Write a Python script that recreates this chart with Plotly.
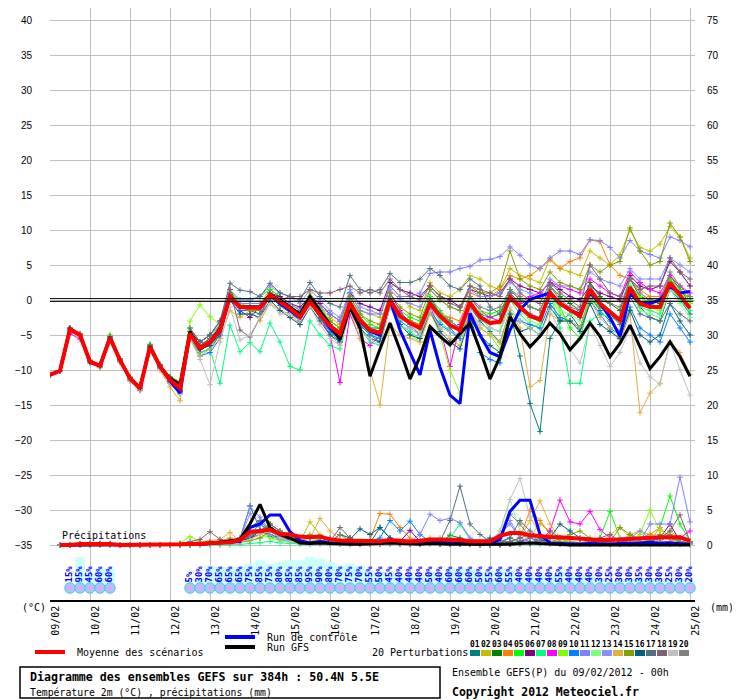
import plotly.graph_objects as go

# 6-hourly steps from 09/02/2012 00h to 25/02/2012 00h (384h)
hours = list(range(0, 385, 6))
day_labels = ["09/02", "10/02", "11/02", "12/02", "13/02", "14/02", "15/02", "16/02", "17/02",
              "18/02", "19/02", "20/02", "21/02", "22/02", "23/02", "24/02", "25/02"]

# ---------------- temperature 2m (°C) ----------------
temp_mean = [-10.7, -10.1, -4.2, -5.0, -8.8, -9.4, -5.4, -8.6, -11.2, -12.6, -6.7, -9.5, -11.4, -12.6,
             -4.8, -6.9, -6.0, -4.3, 0.5, -1.0, -1.1, -1.1, 0.7, -0.2, -1.2, -2.4, -0.2, -2.1,
             -3.7, -4.8, -0.4, -2.9, -4.3, -4.7, 0.0, -2.3, -3.3, -4.0, -0.5, -2.3,
             -3.6, -4.3, -0.4, -2.4, -3.3, -3.1, 0.4, -1.0, -2.3, -2.8, 1.0, -0.5,
             -1.4, -2.3, 1.5, -0.5, -1.7, -2.9, 1.8, -0.5, -1.0, -1.0, 2.5, 0.7, -1.2]
temp_ctrl = [-10.7, -10.1, -4.2, -5.0, -8.8, -9.4, -5.4, -8.6, -11.2, -12.6, -6.7, -9.5, -11.6, -13.3,
             -4.8, -7.0, -6.0, -4.5, 0.5, -1.0, -1.0, -1.0, 0.8, -0.5, -1.5, -2.5, 0.0, -2.0,
             -4.0, -5.5, -0.5, -3.0, -4.5, -5.0, 0.0, -4.3, -7.5, -10.7, -4.3, -9.6,
             -13.6, -14.8, -1.9, -5.0, -7.5, -8.1, -4.3, -1.4, 0.1, 0.5, 1.0, -0.5,
             -1.5, -2.0, 1.0, -0.5, -2.5, -5.2, 1.0, -0.5, -0.5, 0.0, 1.9, 1.0, 1.2]
temp_gfs = [-10.7, -10.1, -4.1, -5.0, -8.9, -9.4, -5.3, -8.6, -11.2, -12.5, -6.6, -9.5, -11.2, -12.0,
            -4.5, -7.0, -6.0, -4.0, 0.5, -1.0, -1.0, -1.0, 0.8, 0.0, -1.0, -2.0, 0.5, -1.5,
            -3.5, -5.7, -1.0, -4.0, -10.9, -7.0, -3.3, -7.1, -11.3, -8.1, -3.8, -5.2,
            -6.4, -4.8, -3.3, -7.1, -11.3, -8.1, -2.4, -4.8, -6.7, -5.2, -3.3, -4.8,
            -7.1, -5.5, -3.3, -5.2, -8.1, -6.2, -3.6, -6.7, -9.8, -8.1, -6.0, -8.1, -10.9]
temp_p01 = [-10.7, -10.1, -4.0, -4.9, -8.9, -9.6, -5.3, -8.7, -11.3, -12.8, -6.5, -9.6, -11.8, -13.0,
            -5.5, -7.5, -7.0, -5.0, 0.8, -1.5, -1.5, -2.0, 0.5, -0.8, -1.8, -3.0, 0.0, -2.5,
            -4.5, -5.5, -0.5, -3.5, -5.0, -6.0, 0.5, -2.0, -3.0, -4.5, 0.5, -2.0,
            -4.0, -5.5, -1.0, -3.0, -4.5, -6.0, -1.5, -8.0, -14.8, -18.8, -5.5, -3.0,
            -2.0, -4.0, 0.5, -1.5, -3.0, -4.5, 1.0, -1.0, -2.5, -3.0, 1.5, 0.0, -2.0]
temp_p02 = [-10.7, -10.1, -4.3, -5.1, -8.7, -9.3, -5.5, -8.5, -11.1, -12.5, -6.8, -9.4, -11.2, -12.2,
            -4.5, -6.5, -5.5, -4.0, 1.0, -0.5, -0.5, -0.5, 1.5, 0.5, -0.5, -1.5, 1.0, -1.0,
            -2.5, -3.5, 1.0, -1.5, -2.0, -2.5, 2.0, 0.5, -1.0, -1.5, 2.5, 1.0,
            0.5, 1.5, 3.5, 3.0, 2.0, 1.5, 4.5, 3.5, 3.0, 2.5, 6.0, 4.5,
            4.0, 3.5, 7.0, 6.0, 5.0, 6.5, 10.0, 7.5, 7.0, 8.0, 10.5, 9.0, 6.0]
temp_p03 = [-10.7, -10.1, -4.1, -5.0, -8.8, -9.5, -5.2, -8.6, -11.2, -12.7, -6.6, -9.7, -11.6, -12.9,
            -5.0, -7.0, -6.5, -4.5, 0.5, -1.0, -1.0, -1.0, 1.0, 0.0, -1.0, -2.0, 0.0, -2.0,
            -3.5, -4.5, -0.5, -2.5, -4.0, -4.0, 0.5, -2.0, -3.0, -3.5, 0.0, -2.0,
            -3.0, -4.0, 0.0, -2.0, -2.5, -2.0, 1.5, 0.0, -1.0, -1.5, 2.0, 0.5,
            -0.5, -1.5, 2.5, 0.5, -0.5, -1.5, 3.0, 0.5, 0.0, -0.5, 3.5, 1.5, -0.5]
temp_p04 = [-10.7, -10.1, -4.2, -4.8, -8.6, -9.3, -5.4, -8.4, -11.0, -12.4, -6.9, -9.3, -11.0, -12.0,
            -4.5, -6.5, -5.5, -4.0, 1.0, -0.5, -1.0, -1.0, 1.0, 0.0, -1.0, -2.0, 0.5, -1.5,
            -3.0, -4.0, 0.0, -2.5, -4.0, -4.5, 0.5, -2.0, -3.0, -3.5, 0.0, -2.0,
            -2.5, -3.0, 1.0, 0.5, 0.5, 1.5, 3.5, 3.0, 3.5, 4.5, 5.7, 4.5,
            5.5, 6.0, 8.6, 8.3, 5.0, 3.5, 3.0, 1.5, 0.5, 0.5, 3.0, 1.0, 0.5]
temp_p05 = [-10.7, -10.1, -4.1, -5.1, -8.9, -9.5, -5.0, -8.8, -11.4, -12.7, -6.3, -9.5, -11.5, -12.8,
            -4.0, -6.0, -5.0, -3.5, 1.0, 0.0, 0.0, 0.5, 1.5, 0.5, -0.5, -1.5, 0.5, -1.0,
            -3.0, -4.0, 0.5, -2.0, -3.5, -4.0, 1.0, -1.5, -2.5, -3.0, 0.5, -1.5,
            -3.0, -4.0, 0.5, -1.5, -2.0, -1.5, 1.0, -0.5, -2.5, -3.0, 0.5, -1.0,
            -4.0, -5.5, 0.0, -1.0, -2.0, -3.0, 2.0, 0.5, -0.5, -1.0, 3.0, 1.5, 0.0]
temp_p06 = [-10.7, -10.1, -4.3, -5.2, -8.8, -9.4, -5.5, -8.6, -11.2, -12.6, -6.8, -9.6, -11.7, -13.1,
            -4.5, -6.0, -5.0, -3.0, 1.5, -1.5, -2.5, -1.0, 1.0, 0.5, -0.5, -1.0, 0.5, -0.5,
            -2.0, -3.0, 1.0, -0.5, -1.0, -1.5, 2.5, 1.5, 1.0, 0.5, 2.0, 0.5,
            0.0, -1.0, 1.5, 1.0, 0.5, 1.0, 3.0, 2.0, 1.5, 1.0, 2.5, 1.5,
            0.5, 0.0, 2.0, 1.0, 0.5, 0.0, 3.5, 2.0, 1.5, 2.0, 5.5, 4.0, 2.0]
temp_p07 = [-10.7, -10.1, -4.2, -5.0, -8.9, -9.5, -5.4, -8.7, -11.3, -12.7, -6.6, -9.4, -11.3, -12.5,
            -5.0, -7.5, -7.0, -11.9, -3.6, -7.4, -6.1, -7.4, -3.3, -6.0, -9.5, -10.0, -3.0, -5.0,
            -6.5, -7.0, -1.5, -4.0, -6.0, -6.5, -1.0, -3.5, -4.5, -5.5, -1.0, -3.0,
            -4.5, -5.0, -0.5, -2.5, -4.0, -4.5, 0.0, -2.0, -3.5, -4.0, 1.0, -4.0,
            -11.9, -11.9, -3.0, -2.0, -2.5, -3.0, 1.0, -1.0, -1.5, -2.0, 2.0, 0.0, -1.5]
temp_p08 = [-10.7, -10.1, -4.8, -5.6, -9.0, -9.6, -5.7, -8.9, -11.5, -12.9, -7.0, -9.8, -11.8, -13.2,
            -5.0, -7.0, -6.5, -4.5, 0.0, -1.5, -1.5, -1.5, 0.5, -0.5, -1.5, -3.0, -0.5, -2.5,
            -5.0, -11.8, -2.0, -5.5, -6.5, -5.0, 1.0, -1.5, -3.5, -5.0, -1.0, -4.0,
            -9.5, -3.5, 0.5, -1.5, -2.5, -3.0, 1.0, -0.5, 0.5, 1.0, 2.5, 2.0,
            1.5, 1.0, 3.0, 2.0, 1.0, 0.5, 4.0, 2.5, 1.5, 1.0, 3.5, 2.0, 1.0]
temp_p09 = [-10.7, -10.1, -4.0, -4.9, -8.7, -9.2, -5.1, -8.5, -11.1, -12.4, -6.4, -9.2, -10.9, -11.6,
            -3.0, -0.7, -2.4, -3.5, 1.5, -0.5, -1.0, -1.0, 1.0, -0.5, -1.5, -2.5, 0.0, -2.0,
            -4.0, -5.0, 0.0, -3.0, -5.0, -5.5, 0.5, -3.5, -5.0, -6.0, -1.5, -5.0,
            -10.0, -13.3, -3.0, -4.0, -5.0, -7.0, -1.5, -3.0, -4.0, -3.5, 0.5, -2.0,
            -3.0, -4.0, 0.5, -1.0, -2.0, -3.0, 1.5, 0.5, -1.0, -1.5, 2.0, 1.0, -0.5]
temp_p10 = [-10.7, -10.1, -4.2, -5.0, -8.8, -9.4, -5.4, -8.6, -11.2, -12.6, -6.7, -9.6, -11.9, -13.4,
            -5.5, -8.0, -7.5, -5.5, 0.5, -1.5, -1.5, -1.5, 0.5, -0.5, -1.5, -3.0, -0.5, -2.5,
            -4.5, -6.0, -1.0, -3.5, -5.0, -5.5, -0.5, -3.0, -4.0, -5.0, -1.5, -3.5,
            -4.5, -5.5, -2.0, -7.5, -8.5, -9.0, -3.0, -3.0, -3.5, -4.0, -0.5, -2.5,
            -3.0, -4.0, 0.0, -2.0, -4.0, -5.0, -1.0, -4.0, -5.0, -6.0, -2.0, -4.0, -6.0]
temp_p11 = [-10.7, -10.1, -4.1, -5.0, -8.7, -9.4, -5.3, -8.5, -11.1, -12.5, -6.6, -9.4, -11.3, -12.4,
            -4.5, -6.5, -5.5, -4.0, 1.0, -0.5, -0.5, -0.5, 1.0, 0.0, -0.5, -1.5, 0.5, -1.0,
            -2.0, -3.0, 1.0, -1.5, -2.0, -2.0, 2.0, 0.5, 0.5, 1.0, 3.8, 4.0,
            4.0, 4.5, 4.8, 5.7, 5.8, 6.2, 7.6, 6.4, 5.0, 4.5, 6.0, 7.0,
            7.0, 6.5, 8.6, 8.5, 7.5, 6.0, 8.5, 7.0, 6.5, 6.0, 9.0, 8.5, 7.6]
temp_p12 = [-10.7, -10.1, -4.2, -5.1, -8.8, -9.4, -5.4, -8.7, -11.3, -12.6, -6.7, -9.5, -11.4, -12.6,
            -4.5, -6.5, -6.0, -4.0, 0.5, -1.0, -1.0, -1.0, 1.0, -0.5, -1.0, -2.0, 0.5, -1.5,
            -3.5, -4.5, 0.0, -2.5, -4.0, -4.5, 0.0, -2.5, -3.5, -4.5, -1.0, -2.5,
            -3.5, -4.0, 0.0, -1.5, -3.0, -3.5, 0.5, -1.5, -3.0, -3.5, 0.5, -1.5,
            -2.0, -3.0, 1.0, -1.0, -2.0, -3.5, 1.0, -1.5, -2.0, -2.5, 1.5, -0.5, -2.5]
temp_p13 = [-10.7, -10.1, -4.0, -4.9, -8.7, -9.3, -5.3, -8.5, -11.2, -12.5, -6.6, -9.4, -11.2, -12.3,
            -4.5, -6.5, -5.5, -3.5, 1.5, 0.0, 0.0, 0.5, 2.0, 1.0, 0.5, -0.5, 1.5, 0.0,
            -1.5, -2.5, 1.5, -1.0, -1.5, -2.0, 1.5, 0.0, -0.5, -1.0, 1.5, 0.0,
            -1.0, -1.5, 1.5, 0.5, 0.5, 1.0, 2.5, 1.5, 1.0, 0.5, 3.0, 2.0,
            2.0, 1.5, 4.0, 3.0, 2.5, 2.0, 4.5, 3.0, 3.0, 3.0, 6.0, 5.0, 4.0]
temp_p14 = [-10.7, -10.1, -4.4, -5.3, -9.0, -9.7, -5.6, -8.9, -11.6, -13.0, -7.1, -10.0, -12.4, -14.4,
            -5.5, -8.0, -7.0, -5.5, -1.5, -2.5, -1.5, -3.0, -0.5, -1.5, -2.0, -3.5, -1.0, -3.0,
            -5.0, -6.5, -1.5, -5.5, -10.0, -15.0, -3.5, -5.0, -5.5, -6.0, -2.0, -4.0,
            -5.5, -6.5, -1.5, -4.0, -5.0, -6.0, -1.5, -4.0, -12.4, -11.5, -2.0, -3.0,
            -3.0, -4.0, 0.0, -2.5, -4.0, -6.0, -2.0, -16.1, -13.3, -11.9, -5.9, -7.5, -10.6]
temp_p15 = [-10.7, -10.1, -4.2, -5.0, -8.8, -9.4, -5.4, -8.6, -11.2, -12.6, -6.7, -9.5, -11.5, -12.7,
            -4.5, -6.5, -5.5, -4.0, 1.0, -1.0, -1.5, -1.5, 1.0, 0.0, -1.0, -2.0, 0.5, -1.5,
            -3.0, -4.0, 0.5, -2.0, -3.0, -3.5, 1.0, -1.0, -2.0, -2.5, 1.5, 0.0,
            -1.0, -1.5, 2.0, 1.0, 1.0, 2.0, 7.0, 3.0, 2.0, 1.5, 4.0, 2.5,
            2.0, 1.5, 5.0, 4.0, 5.0, 5.5, 10.3, 7.0, 5.0, 5.5, 11.0, 9.0, 5.5]
temp_p16 = [-10.7, -10.1, -4.3, -5.1, -8.9, -9.5, -5.5, -8.7, -11.3, -12.7, -6.8, -9.6, -11.6, -12.9,
            -5.0, -7.0, -6.5, -5.0, 0.0, -2.0, -2.0, -2.5, 0.0, -1.5, -2.5, -3.5, -1.0, -3.0,
            -5.0, -6.0, -1.5, -4.0, -5.5, -6.0, -1.0, -3.5, -5.0, -5.5, -1.5, -4.5,
            -6.0, -7.0, -2.5, -5.0, -6.5, -7.5, -2.0, -4.5, -4.0, -5.0, -1.0, -3.0,
            -3.0, -4.5, -0.5, -3.5, -4.5, -5.5, -1.5, -5.0, -6.0, -5.0, -0.5, -3.0, -5.0]
temp_p17 = [-10.7, -10.1, -4.0, -4.9, -8.6, -9.2, -5.2, -8.4, -11.0, -12.3, -6.4, -9.2, -11.0, -12.0,
            -4.0, -6.0, -5.0, -3.0, 2.4, 1.4, 1.2, 0.5, 2.4, 1.0, 0.5, 0.0, 2.5, 0.5,
            -0.5, -1.0, 3.5, 1.5, 1.0, 1.5, 3.8, 2.5, 2.5, 3.0, 4.5, 3.5,
            2.0, 1.5, 3.0, 2.0, -1.0, -2.0, 1.0, -1.5, -2.0, -2.5, 1.5, -0.5,
            -1.5, -2.5, 1.0, -1.0, -2.0, -3.5, 0.5, -2.0, -2.5, -3.0, -0.5, -2.0, -3.0]
temp_p18 = [-10.7, -10.1, -4.1, -4.9, -8.7, -9.3, -5.3, -8.5, -11.1, -12.4, -6.6, -9.3, -11.1, -12.2,
            -4.5, -6.5, -5.5, -5.0, 1.5, -4.3, -5.3, -2.5, 1.0, 0.0, 0.5, 0.5, 1.5, 1.0,
            1.0, 1.5, 2.0, 1.0, 1.5, 1.0, 3.0, 1.5, 0.5, 0.0, 2.0, 0.5,
            -0.5, -1.0, 2.0, 1.5, 1.0, 0.5, 3.0, 1.0, 0.0, -0.5, 2.5, 1.0,
            0.0, -1.0, 5.0, 3.0, 1.0, 0.5, 3.0, 1.5, 2.0, 2.0, 6.0, 4.0, 3.0]
temp_p19 = [-10.7, -10.1, -4.3, -5.2, -8.9, -9.6, -5.5, -8.8, -11.4, -12.8, -6.9, -9.7, -11.9, -13.5,
            -5.5, -8.5, -12.1, -6.0, -1.0, -5.7, -5.0, -2.5, -0.5, -2.0, -2.0, -3.0, -1.0, -3.5,
            -5.5, -6.5, -1.5, -4.5, -5.5, -6.5, -1.0, -4.0, -4.0, -5.0, -1.5, -4.0,
            -4.5, -5.0, -1.5, -3.5, -4.0, -4.5, -1.0, -3.0, -4.0, -5.0, -1.5, -4.5,
            -7.0, -9.0, -3.5, -6.5, -9.5, -7.5, -4.0, -9.0, -11.0, -12.0, -6.0, -10.0, -13.6]
temp_p20 = [-10.7, -10.1, -4.2, -5.0, -8.8, -9.4, -5.4, -8.6, -11.2, -12.6, -6.7, -9.5, -11.4, -12.6,
            -4.5, -6.5, -6.0, -4.5, 0.5, -1.0, -1.0, -1.5, 0.5, -0.5, -1.0, -2.5, 0.0, -2.0,
            -3.5, -5.0, 0.0, -2.5, -4.0, -4.5, 0.5, -2.0, -3.5, -4.0, 0.0, -2.0,
            -3.0, -4.0, 0.5, -1.0, -1.5, -1.0, 1.5, 0.5, -1.0, -1.5, 2.0, 0.0,
            -1.0, -1.5, 2.0, 0.0, -0.5, -1.0, 3.0, 1.0, 0.0, 0.0, 4.0, 2.0, 0.5]

# ---------------- precipitation per 6h (mm) ----------------
prec_mean = [None, 0, 0, 0.15, 0.15, 0.15, 0.15, 0, 0, 0, 0, 0, 0, 0.1, 0.15, 0.15,
             0.3, 0.4, 0.4, 0.7, 1.9, 2.0, 2.2, 1.6, 1.5, 1.2, 1.1, 1.2, 0.8, 0.65, 0.6, 0.6,
             0.5, 0.55, 0.7, 0.6, 0.5, 0.6, 0.8, 0.8, 0.8, 0.7, 0.55, 0.5, 0.55, 1.3, 1.7, 1.7,
             1.4, 1.3, 1.1, 1.1, 1.0, 0.8, 0.7, 0.7, 0.7, 0.8, 0.9, 0.9, 1.0, 1.1, 1.1, 1.1, 0.6]
prec_ctrl = [None, 0, 0, 0, 0, 0, 0, 0, 0, 0, 0, 0, 0, 0.1, 0.1, 0.1,
             0.2, 0.3, 0.3, 0.5, 2.5, 3.0, 4.3, 4.3, 1.9, 0.6, 0.3, 0.5, 0.3, 0.2, 0.3, 0.2,
             0.2, 0.3, 0.5, 0.3, 0.2, 0.3, 0.5, 0.4, 0.3, 0.2, 0.2, 0.1, 0.2, 0.8, 4.8, 6.4,
             6.4, 1.5, 0.3, 0.2, 0.1, 0.1, 0.2, 0.1, 0.1, 0.2, 0.2, 0.3, 0.4, 0.2, 0.3, 0.2, 0.1]
prec_gfs = [None, 0, 0, 0, 0, 0, 0, 0, 0, 0, 0, 0, 0, 0, 0.1, 0.1,
            0.2, 0.4, 0.5, 0.8, 3.0, 5.8, 2.5, 1.5, 1.0, 0.3, 0.2, 0.3, 0.2, 0.1, 0.1, 0.1,
            0.1, 0.2, 0.3, 0.2, 0.1, 0.1, 0.2, 0.1, 0.1, 0.1, 0.1, 0, 0, 0, 0.1, 0.2,
            0.3, 0.2, 0.1, 0, 0, 0, 0, 0, 0, 0, 0.1, 0, 0, 0, 0, 0, 0]
prec_p01 = [None, 0, 0, 0.1, 0.2, 0.1, 0.1, 0, 0, 0, 0, 0, 0, 0, 0.1, 0.2,
            0.2, 0.3, 0.4, 0.8, 5.6, 2.2, 1.2, 0.8, 0.5, 0.3, 0.2, 0.2, 0.4, 0.2, 0.1, 0.1,
            0.3, 2.5, 1.0, 0.3, 0.1, 0.1, 0.2, 0.1, 0.1, 0.5, 0.2, 0, 0, 0, 0.1, 0.2,
            0.3, 0.6, 2.0, 1.0, 0.3, 0.2, 0.3, 0.5, 0.2, 0.3, 1.5, 0.5, 0.3, 0.2, 0.2, 0.1, 0.1]
prec_p02 = [None, 0, 0, 0.2, 0.2, 0.1, 0.1, 0, 0, 0, 0, 0, 0, 0, 0.1, 0.1,
            0.2, 0.3, 0.4, 0.6, 2.0, 1.5, 3.0, 2.0, 1.0, 0.5, 3.3, 1.5, 0.5, 0.3, 0.5, 0.2,
            0.1, 0.2, 0.3, 0.2, 0.3, 0.5, 1.0, 0.4, 0.2, 0.1, 0.1, 0.1, 0.1, 0.2, 0.3, 0.5,
            1.2, 3.0, 2.0, 0.8, 0.5, 0.3, 0.2, 0.3, 0.2, 0.5, 1.5, 2.0, 1.5, 0.8, 2.0, 1.0, 0.5]
prec_p03 = [None, 0, 0, 0.1, 0.1, 0.2, 0.1, 0, 0, 0, 0, 0, 0, 0.1, 0.1, 0.1,
            0.2, 0.2, 0.3, 0.5, 1.0, 2.0, 1.5, 1.0, 0.8, 0.5, 0.4, 0.6, 0.5, 1.5, 1.0, 0.4,
            0.2, 0.3, 0.3, 0.2, 0.2, 0.2, 0.3, 0.3, 1.4, 1.0, 0.5, 0.2, 0.1, 0.2, 0.2, 0.3,
            0.2, 0.3, 0.2, 0.2, 0.1, 0.2, 0.3, 0.8, 0.5, 0.2, 0.2, 0.3, 0.5, 0.3, 0.2, 0.2, 0.1]
prec_p04 = [None, 0, 0, 0.2, 0.2, 0.2, 0.1, 0, 0, 0, 0, 0, 0, 0.1, 0.1, 0.2,
            0.3, 0.5, 1.0, 0.6, 1.0, 1.5, 2.0, 1.5, 1.2, 0.6, 0.4, 0.5, 0.3, 0.2, 0.3, 0.5,
            0.8, 4.5, 4.4, 2.5, 1.0, 0.4, 0.2, 0.2, 0.1, 0.2, 0.1, 0.1, 0.1, 0.2, 0.4, 1.0,
            5.0, 3.5, 1.5, 0.5, 0.3, 0.2, 0.2, 0.3, 0.2, 0.3, 0.5, 1.0, 1.5, 2.5, 1.0, 0.5, 0.3]
prec_p05 = [None, 0, 0, 0.1, 0.1, 0.1, 0.1, 0, 0, 0, 0, 0, 0, 0, 0.1, 0.2,
            0.5, 0.4, 0.3, 0.6, 2.5, 3.0, 2.0, 1.0, 0.6, 0.4, 0.3, 0.3, 0.2, 0.2, 0.1, 0.2,
            0.2, 0.1, 0.2, 0.3, 0.2, 0.3, 0.4, 1.0, 0.5, 0.3, 0.1, 0.1, 0.1, 0.1, 0.2, 0.2,
            0.3, 0.2, 0.3, 0.4, 0.5, 0.3, 0.5, 1.0, 4.8, 1.0, 0.5, 0.3, 0.5, 2.5, 7.0, 3.0, 0.5]
prec_p06 = [None, 0, 0, 0.1, 0.1, 0.1, 0.2, 0, 0, 0, 0, 0, 0, 0, 0, 0.1,
            0.2, 0.2, 0.3, 0.5, 1.0, 1.5, 2.5, 1.5, 1.0, 0.6, 0.4, 0.4, 0.3, 0.5, 1.0, 0.4,
            0.3, 0.2, 0.3, 0.5, 2.1, 0.5, 0.3, 0.2, 0.2, 0.1, 0.2, 0.1, 0.1, 0.1, 0.2, 0.5,
            1.0, 0.5, 0.3, 0.2, 0.2, 0.3, 0.2, 0.2, 0.2, 0.3, 0.3, 0.4, 0.5, 1.0, 3.0, 0.5, 0.2]
prec_p07 = [None, 0, 0, 0, 0, 0, 0, 0, 0, 0, 0, 0, 0, 0, 0, 0,
            0, 0, 0, 0.1, 0.2, 0.3, 0.5, 0.3, 0.2, 0.1, 0.1, 0.2, 0.1, 0.1, 0.2, 0.1,
            0.1, 0.1, 0.2, 0.2, 0.2, 0.3, 0.3, 0.5, 1.0, 3.0, 0.8, 0.3, 0.2, 0.3, 0.5, 0.3,
            0.2, 0.1, 0.2, 0.2, 0.1, 0.1, 0.2, 0.1, 0.1, 0.1, 0.2, 0.2, 0.3, 0.2, 0.2, 0.1, 0.1]
prec_p08 = [None, 0, 0, 0.1, 0.1, 0.2, 0.1, 0, 0, 0, 0, 0, 0, 0, 0.1, 0.1,
            0.2, 0.3, 0.3, 0.6, 1.5, 2.0, 2.5, 1.5, 1.0, 0.5, 0.4, 0.3, 0.4, 0.3, 0.2, 0.3,
            0.2, 0.3, 0.4, 0.3, 0.2, 0.3, 0.5, 0.3, 0.2, 0.2, 0.1, 0.1, 0.1, 0.2, 0.2, 0.3,
            0.3, 0.5, 2.0, 6.4, 3.3, 3.0, 4.8, 2.2, 1.0, 0.5, 0.4, 0.3, 0.3, 0.5, 0.5, 1.0, 2.0]
prec_p09 = [None, 0, 0, 0.1, 0.1, 0.1, 0.1, 0, 0, 0, 0, 0, 0, 0.3, 1.2, 0.5,
            0.3, 0.3, 0.4, 0.5, 2.0, 1.5, 1.0, 0.6, 0.5, 0.4, 0.5, 1.0, 0.8, 0.3, 0.2, 0.2,
            0.2, 0.1, 0.2, 0.3, 0.2, 0.3, 0.3, 0.2, 0.3, 0.5, 0.2, 0.1, 0.1, 0.2, 0.3, 0.2,
            0.2, 0.3, 0.2, 0.2, 0.2, 0.3, 0.2, 0.3, 0.3, 0.2, 0.5, 1.5, 5.0, 2.0, 1.5, 0.5, 0.2]
prec_p10 = [None, 0, 0, 0.1, 0.2, 0.1, 0.1, 0, 0, 0, 0, 0, 0, 0, 0.1, 0.1,
            0.2, 0.3, 0.4, 0.5, 1.5, 3.0, 2.0, 1.0, 0.8, 0.4, 0.3, 0.3, 0.2, 0.2, 0.3, 0.4,
            0.5, 1.0, 3.5, 2.0, 3.4, 1.5, 0.5, 0.3, 0.2, 0.2, 0.1, 0.1, 0.2, 0.5, 1.0, 0.5,
            0.3, 1.0, 0.3, 0.2, 0.1, 0.2, 0.1, 0.2, 0.2, 0.1, 0.2, 0.2, 0.3, 0.2, 0.2, 0.2, 0.1]
prec_p11 = [None, 0, 0, 0.1, 0.1, 0.1, 0.1, 0, 0, 0, 0, 0, 0, 0.1, 0.1, 0.2,
            0.2, 0.3, 0.5, 1.0, 5.5, 4.0, 2.0, 1.0, 0.6, 0.4, 0.3, 0.3, 0.2, 0.3, 0.2, 0.2,
            0.2, 0.2, 0.3, 0.3, 0.5, 1.5, 4.4, 3.5, 3.8, 3.2, 1.0, 0.5, 0.3, 1.5, 3.0, 1.0,
            0.5, 0.3, 0.3, 0.2, 0.2, 0.3, 0.2, 0.3, 0.3, 0.2, 0.4, 0.5, 3.0, 3.0, 3.0, 9.7, 3.3]
prec_p12 = [None, 0, 0, 0.1, 0.1, 0.1, 0.1, 0, 0, 0, 0, 0, 0, 0, 0.1, 0.1,
            0.2, 0.2, 0.3, 0.4, 0.6, 1.0, 1.5, 0.5, 0.4, 0.3, 0.2, 0.2, 0.2, 0.2, 0.2, 0.3,
            0.2, 0.2, 0.3, 0.3, 0.3, 0.3, 0.5, 1.0, 0.5, 0.3, 0.2, 0.2, 0.2, 2.0, 6.5, 2.0,
            0.5, 0.3, 0.2, 0.2, 0.2, 0.1, 0.2, 0.2, 0.2, 0.3, 0.3, 0.2, 0.3, 0.2, 0.3, 0.2, 0.2]
prec_p13 = [None, 0, 0, 0.1, 0.1, 0.1, 0.1, 0, 0, 0, 0, 0, 0, 0.1, 0.1, 0.1,
            0.2, 0.3, 0.4, 0.8, 4.5, 3.0, 1.5, 0.8, 0.5, 0.4, 0.3, 0.3, 0.2, 0.3, 0.2, 0.2,
            0.3, 0.2, 0.2, 0.3, 0.2, 0.3, 0.4, 0.3, 0.2, 0.3, 0.2, 0.2, 0.2, 1.0, 3.5, 1.0,
            0.4, 0.3, 0.2, 0.2, 0.2, 0.3, 0.2, 0.3, 0.3, 0.4, 1.0, 2.0, 1.0, 0.5, 0.4, 0.3, 0.2]
prec_p14 = [None, 0, 0, 0.2, 0.2, 0.2, 0.2, 0, 0, 0, 0, 0, 0, 0.1, 0.3, 0.5,
            0.6, 0.8, 1.8, 0.5, 0.8, 1.5, 2.0, 1.0, 0.8, 0.6, 1.0, 3.8, 2.0, 0.8, 0.4, 0.3,
            0.2, 0.3, 0.3, 0.2, 0.2, 0.3, 0.3, 0.2, 0.2, 0.2, 0.1, 0.1, 0.2, 0.3, 0.5, 1.0,
            3.5, 6.3, 3.0, 1.0, 0.5, 0.3, 0.2, 0.3, 1.5, 2.5, 1.0, 0.5, 0.5, 2.5, 0.8, 0.3, 0.2]
prec_p15 = [None, 0, 0, 0.1, 0.1, 0.1, 0.1, 0, 0, 0, 0, 0, 0, 0, 0.1, 0.1,
            0.2, 0.2, 0.3, 0.4, 0.6, 1.0, 2.0, 1.5, 0.6, 0.4, 1.5, 0.6, 0.3, 0.3, 1.0, 0.3,
            0.2, 0.2, 0.3, 0.2, 0.2, 0.2, 0.3, 0.3, 0.2, 0.2, 0.2, 0.1, 0.1, 0.2, 0.3, 0.3,
            0.3, 0.5, 0.5, 0.8, 1.5, 2.0, 1.0, 0.5, 0.5, 2.5, 1.5, 0.8, 0.6, 1.5, 1.0, 0.5, 0.3]
prec_p16 = [None, 0, 0, 0.1, 0.1, 0.1, 0.1, 0, 0, 0, 0, 0, 0, 0, 0.1, 0.2,
            0.3, 0.3, 0.4, 0.6, 1.0, 2.0, 3.0, 2.0, 0.8, 0.5, 0.4, 0.4, 0.3, 0.5, 0.8, 2.3,
            1.5, 2.5, 1.0, 0.4, 0.3, 0.2, 0.3, 0.2, 0.2, 0.3, 0.2, 0.3, 1.0, 0.5, 0.3, 0.2,
            0.3, 0.5, 1.0, 3.0, 2.0, 1.0, 0.5, 0.3, 0.2, 0.2, 0.3, 0.2, 0.2, 0.3, 0.2, 0.2, 0.1]
prec_p17 = [None, 0, 0, 0.1, 0.1, 0.1, 0.1, 0, 0, 0, 0, 0, 0, 0.1, 0.2, 0.3,
            0.3, 0.4, 0.6, 1.0, 2.5, 3.5, 2.0, 1.2, 0.8, 0.5, 0.4, 0.5, 1.0, 0.5, 0.3, 0.3,
            0.3, 0.3, 0.3, 0.2, 0.2, 0.3, 0.4, 0.5, 3.5, 8.4, 3.0, 1.5, 0.5, 0.3, 1.0, 3.5,
            2.0, 1.0, 0.5, 0.3, 0.2, 0.2, 0.3, 0.2, 0.2, 0.3, 0.2, 0.2, 0.2, 0.3, 0.3, 0.2, 0.1]
prec_p18 = [None, 0, 0, 0.1, 0.1, 0.1, 0.1, 0, 0, 0, 0, 0, 0, 0.2, 0.5, 0.8,
            1.9, 0.8, 0.5, 0.6, 1.2, 2.0, 2.5, 1.5, 0.8, 0.5, 0.4, 0.5, 0.5, 2.5, 1.0, 0.4,
            0.3, 0.2, 0.3, 0.2, 0.2, 0.3, 0.3, 0.2, 0.2, 0.2, 0.2, 0.2, 0.2, 0.3, 0.5, 1.0,
            1.5, 0.5, 0.3, 0.2, 0.2, 0.3, 0.5, 1.0, 1.5, 0.5, 0.3, 0.4, 0.5, 1.0, 2.0, 4.3, 0.5]
prec_p19 = [None, 0, 0, 0.1, 0.1, 0.1, 0.1, 0, 0, 0, 0, 0, 0, 0, 0.1, 0.1,
            0.2, 0.2, 0.3, 0.4, 0.8, 1.5, 2.0, 1.0, 0.5, 0.4, 0.3, 0.2, 0.2, 0.2, 0.2, 0.2,
            0.2, 0.2, 0.3, 0.3, 0.2, 0.2, 0.3, 0.3, 0.2, 0.2, 0.2, 0.2, 0.3, 2.0, 6.5, 9.5,
            4.0, 1.5, 0.5, 0.3, 0.2, 0.2, 0.2, 0.3, 0.3, 1.0, 0.5, 0.3, 0.2, 0.2, 0.3, 0.2, 0.1]
prec_p20 = [None, 0, 0, 0.1, 0.1, 0.1, 0.1, 0, 0, 0, 0, 0, 0, 0.1, 0.2, 0.3,
            0.5, 0.5, 0.6, 0.8, 1.5, 2.0, 3.0, 2.0, 1.0, 0.6, 0.5, 0.6, 0.5, 1.5, 0.5, 0.3,
            0.2, 0.2, 0.3, 0.3, 0.2, 0.3, 0.3, 0.2, 0.2, 0.2, 0.2, 0.2, 0.3, 0.5, 4.4, 3.0,
            1.0, 0.5, 0.3, 0.2, 0.2, 0.3, 0.2, 0.5, 0.3, 0.3, 0.3, 0.2, 0.3, 0.4, 1.5, 0.5, 0.3]

# snow probability (%) per 6h step, None where nothing is shown
snow_prob = [None, None, 15, 95, 45, 60, 60, None, None, None, None, None, None, None,
             5, 30, 70, 65, 65, 65, 75, 85, 75, 80, 85, 85, 95, 90, 80, 70, 75, 70,
             55, 50, 45, 40, 40, 40, 50, 40, 60, 60, 60, 50, 55, 60, 55, 40, 40, 40,
             40, 55, 40, 40, 40, 30, 25, 30, 30, 35, 30, 30, 25, 30, 20]

member_colors = ["#008080", "#c0c000", "#008000", "#ff8000", "#00ff00", "#800080", "#00ff80",
                 "#ff00ff", "#80ff00", "#0080ff", "#8080ff", "#80ff80", "#8c8cff", "#e0b040",
                 "#80a000", "#006080", "#507080", "#806070", "#c0c0c0", "#808080"]

temp_members = [temp_p01, temp_p02, temp_p03, temp_p04, temp_p05, temp_p06, temp_p07, temp_p08,
                temp_p09, temp_p10, temp_p11, temp_p12, temp_p13, temp_p14, temp_p15, temp_p16,
                temp_p17, temp_p18, temp_p19, temp_p20]
prec_members = [prec_p01, prec_p02, prec_p03, prec_p04, prec_p05, prec_p06, prec_p07, prec_p08,
                prec_p09, prec_p10, prec_p11, prec_p12, prec_p13, prec_p14, prec_p15, prec_p16,
                prec_p17, prec_p18, prec_p19, prec_p20]

MONO = "DejaVu Sans Mono"
SANS = "Liberation Sans"

# the page body adds an 8px margin, so the figure is 8px smaller and the
# page-pixel positions below are shifted back by OFF
OFF = 8
W, H = 740 - OFF, 700 - OFF
L, R, T, B = 50 - OFF, W - (695 - OFF), 0, 100
PW, PH = W - L - R, H - T - B        # 645 x 592


def px(x):
    return (x - OFF - L) / PW


def py(y):
    return (PH - (y - OFF - T)) / PH


fig = go.Figure()

# temperature curves
for vals, col in zip(temp_members, member_colors):
    fig.add_trace(go.Scatter(x=hours, y=vals, mode="lines+markers", line=dict(color=col, width=1),
                             marker=dict(symbol="cross-thin", size=4, line=dict(color=col, width=1))))
fig.add_trace(go.Scatter(x=hours, y=temp_ctrl, mode="lines", line=dict(color="#0000ff", width=3)))
fig.add_trace(go.Scatter(x=hours, y=temp_gfs, mode="lines", line=dict(color="#000000", width=3)))
fig.add_trace(go.Scatter(x=hours, y=temp_mean, mode="lines", line=dict(color="#ff0000", width=4)))

# precipitation curves (right axis)
for vals, col in zip(prec_members, member_colors):
    fig.add_trace(go.Scatter(x=hours, y=vals, yaxis="y2", mode="lines+markers",
                             line=dict(color=col, width=1),
                             marker=dict(symbol="cross-thin", size=4, line=dict(color=col, width=1))))
fig.add_trace(go.Scatter(x=hours, y=prec_ctrl, yaxis="y2", mode="lines", line=dict(color="#0000ff", width=3)))
fig.add_trace(go.Scatter(x=hours, y=prec_gfs, yaxis="y2", mode="lines", line=dict(color="#000000", width=3)))
fig.add_trace(go.Scatter(x=hours, y=prec_mean, yaxis="y2", mode="lines", line=dict(color="#ff0000", width=4)))

# snow probability bars + snowflake band
sp_h = [h for h, p in zip(hours, snow_prob) if p is not None]
sp_v = [p for p in snow_prob if p is not None]
fig.add_trace(go.Bar(x=sp_h, y=sp_v, yaxis="y3", width=6, marker=dict(color="#ccffff", line=dict(width=0))))
fig.add_trace(go.Scatter(x=sp_h, y=[2] * len(sp_h), yaxis="y3", mode="markers", cliponaxis=False,
                         marker=dict(symbol="circle", size=10.5, color="#8ed4f6",
                                     line=dict(color="#6ab8e8", width=1))))
fig.add_trace(go.Scatter(x=sp_h, y=[2] * len(sp_h), yaxis="y3", mode="markers", cliponaxis=False,
                         marker=dict(symbol="asterisk-open", size=6, line=dict(color="#4a9fe0", width=1))))

annotations = []
for h, p in zip(sp_h, sp_v):
    annotations.append(dict(x=h, y=23, xref="x", yref="y3", text=f"<b>{p}%</b>", textangle=-90,
                            showarrow=False, xanchor="center", yanchor="bottom", xshift=-2, yshift=-4,
                            font=dict(family=MONO, size=9, color="#0000ff")))

annotations.append(dict(x=6, y=-33.6, xref="x", yref="y", text="Précipitations", showarrow=False,
                        xanchor="left", yanchor="middle", font=dict(family=MONO, size=10, color="black")))


def label(x, y, text, size=10, bold=False):
    t = f"<b>{text}</b>" if bold else text
    annotations.append(dict(x=px(x), y=py(y), xref="paper", yref="paper", text=t, showarrow=False,
                            xanchor="left", yanchor="middle", font=dict(family=MONO, size=size, color="black")))


label(20, 607, "(°C)")
label(708, 607, "(mm)")
label(75, 652, "Moyenne des scénarios")
label(265, 637, "Run de contrôle")
label(265, 647, "Run GFS")
label(370, 652, "20 Perturbations")
label(28, 677, "Diagramme des ensembles GEFS sur 384h : 50.4N 5.5E", size=11.6, bold=True)
label(28, 692, "Température 2m (°C) , précipitations (mm)", size=9.8)
label(450, 672, "Ensemble GEFS(P) du 09/02/2012 - 00h", size=10)
label(450, 692, "Copyright 2012 Meteociel.fr", size=11.5, bold=True)

shapes = []
# double line at 0 °C
for yv in (0.2, -0.2):
    shapes.append(dict(type="line", xref="x", yref="y", x0=0, x1=386, y0=yv, y1=yv,
                       line=dict(color="black", width=1)))
# legend lines
shapes.append(dict(type="line", xref="paper", yref="paper", x0=px(35), x1=px(65), y0=py(652), y1=py(652),
                   line=dict(color="#ff0000", width=4)))
shapes.append(dict(type="line", xref="paper", yref="paper", x0=px(225), x1=px(255), y0=py(637), y1=py(637),
                   line=dict(color="#0000ff", width=4)))
shapes.append(dict(type="line", xref="paper", yref="paper", x0=px(225), x1=px(255), y0=py(647), y1=py(647),
                   line=dict(color="#000000", width=4)))
# member colour swatches
for i, col in enumerate(member_colors):
    x0 = 470 + 11 * i
    shapes.append(dict(type="rect", xref="paper", yref="paper", x0=px(x0), x1=px(x0 + 10),
                       y0=py(656), y1=py(650), line=dict(width=0), fillcolor=col))
    annotations.append(dict(x=px(x0 + 5), y=py(644), xref="paper", yref="paper", text=f"<b>{i + 1:02d}</b>",
                            showarrow=False, xanchor="center", yanchor="middle",
                            font=dict(family=MONO, size=8, color="black")))
# title box
shapes.append(dict(type="rect", xref="paper", yref="paper", x0=px(20), x1=px(440), y0=py(698), y1=py(667),
                   line=dict(color="black", width=1.5)))

fig.update_layout(
    width=W, height=H,
    margin=dict(l=L, r=R, t=T, b=B),
    plot_bgcolor="white", paper_bgcolor="white",
    showlegend=False,
    xaxis=dict(range=[0, 387], tickvals=list(range(0, 385, 24)), ticktext=day_labels, tickangle=-90,
               showgrid=True, gridcolor="#c0c0c0", gridwidth=1, zeroline=False,
               showline=True, linecolor="black", linewidth=1.5, ticks="", ticklabelshift=6,
               tickfont=dict(family=MONO, size=10, color="black")),
    yaxis=dict(range=[-300 / 7, 292 / 7], tickvals=list(range(-35, 45, 5)), showgrid=True,
               gridcolor="#c0c0c0", gridwidth=1, zeroline=False, ticks="", ticklabelstandoff=17,
               tickfont=dict(family=SANS, size=10, color="black")),
    yaxis2=dict(range=[-300 / 7 + 35, 292 / 7 + 35], tickvals=list(range(0, 80, 5)), overlaying="y",
                side="right", showgrid=False, zeroline=False, ticks="", ticklabelstandoff=11,
                tickfont=dict(family=SANS, size=10, color="black")),
    yaxis3=dict(range=[-34, 1742], overlaying="y", visible=False),
    annotations=annotations,
    shapes=shapes,
)

fig.write_html("out.html")
